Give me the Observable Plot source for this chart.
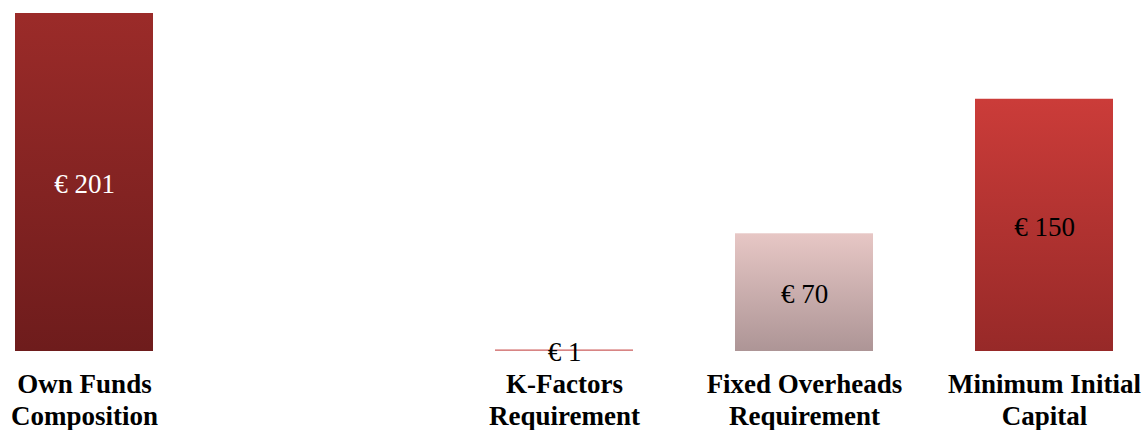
<!DOCTYPE html>
<html>
<head>
<meta charset="utf-8">
<script src="https://cdn.jsdelivr.net/npm/d3@7"></script>
<script src="https://cdn.jsdelivr.net/npm/@observablehq/plot@0.6"></script>
<style>
  html, body { margin: 0; padding: 0; background: #fff; }
</style>
</head>
<body>
<div id="chart"></div>
<script>
// ---- data ----
const categories = ["Own Funds Composition", "", "K-Factors Requirement", "Fixed Overheads Requirement", "Minimum Initial Capital"];
const values = [201, null, 1, 70, 150];
const tickLabels = ["Own Funds\nComposition", "", "K-Factors\nRequirement", "Fixed Overheads\nRequirement", "Minimum Initial\nCapital"];

// ---- styles ----
const gradients = [
  {id: "g0", top: "#9b2b29", bottom: "#6e1c1c"},
  null,
  {id: "g2", top: "#dc8a89", bottom: "#d68282"},
  {id: "g3", top: "#e7c7c5", bottom: "#ad9596"},
  {id: "g4", top: "#cb3c39", bottom: "#972928"}
];
const labelColors = ["#ffffff", null, "#000000", "#000000", "#000000"];

const rows = categories.map((c, i) => ({cat: c, value: values[i], i}))
  .filter(d => d.value != null);

const fontFamily = "'Liberation Serif', 'Times New Roman', serif";

const chart = Plot.plot({
  width: 1145,
  height: 430,
  marginTop: 13,
  marginBottom: 79,
  marginLeft: 15,
  marginRight: 32,
  style: {fontFamily, background: "#fff"},
  x: {domain: categories, paddingInner: 0.425, paddingOuter: 0, axis: null},
  y: {domain: [0, 201], axis: null},
  color: {type: "identity"},
  marks: [
    Plot.barY(rows, {x: "cat", y: "value", fill: d => `url(#${gradients[d.i].id})`}),
    Plot.text(rows, {
      x: "cat", y: d => d.value / 2,
      dy: 2,
      text: d => "€ " + d.value,
      fill: d => labelColors[d.i],
      fontSize: 27
    }),
    Plot.axisX({
      domain: categories,
      label: null,
      tickSize: 0,
      tickPadding: 19,
      fontSize: 27,
      fontWeight: "bold",
      lineHeight: 1.18,
      fill: "#000",
      tickFormat: c => tickLabels[categories.indexOf(c)]
    })
  ]
});

const svg = d3.select(chart);
const defs = svg.insert("defs", ":first-child");
gradients.filter(Boolean).forEach(g => {
  const lg = defs.append("linearGradient").attr("id", g.id)
    .attr("x1", 0).attr("y1", 0).attr("x2", 0).attr("y2", 1);
  lg.append("stop").attr("offset", "0%").attr("stop-color", g.top);
  lg.append("stop").attr("offset", "100%").attr("stop-color", g.bottom);
});

document.getElementById("chart").appendChild(chart);
</script>
</body>
</html>
